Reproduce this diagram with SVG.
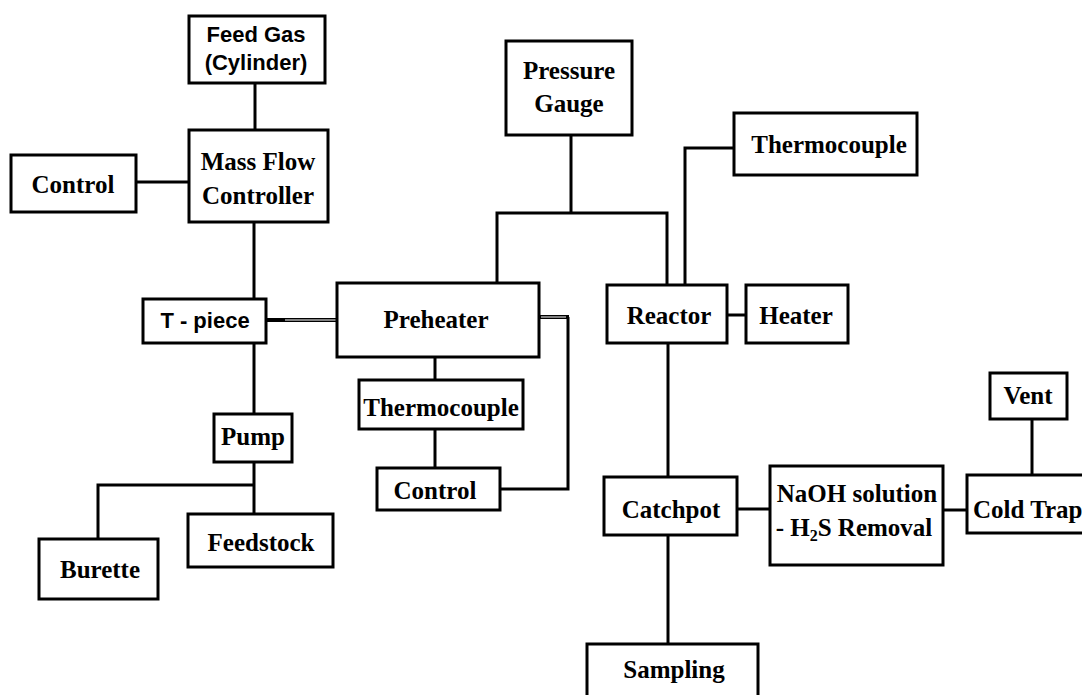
<svg xmlns="http://www.w3.org/2000/svg" width="1082" height="695" viewBox="0 0 1082 695">
<style>
.box{fill:#fff;stroke:#000;stroke-width:3}
.ln{fill:none;stroke:#000;stroke-width:3}
.dbl{fill:none;stroke:#000;stroke-width:4}
.dblw{fill:none;stroke:#fff;stroke-width:1}
.t{font-family:"Liberation Serif","Times New Roman",serif;font-weight:bold;font-size:25px;fill:#000;text-anchor:middle}
.s{font-family:"Liberation Sans",Arial,sans-serif;font-weight:bold;font-size:22px;fill:#000;text-anchor:middle}
</style>
<rect width="1082" height="695" fill="#fff"/>
<g id="connectors">
<path class="ln" d="M255,83 V130"/>
<path class="ln" d="M136,182 H189"/>
<path class="ln" d="M254,222 V299"/>
<path class="ln" d="M254,343 V414"/>
<path class="ln" d="M254,462 V514"/>
<path class="ln" d="M254,485 H98 V539"/>
<path class="dbl" d="M266,320 H337"/>
<path class="dblw" d="M285,320 H336"/>
<path class="ln" d="M435,357 V380"/>
<path class="ln" d="M435,429 V468"/>
<path class="ln" d="M500,489 H568 V317"/>
<path class="dbl" d="M539,317 H569"/>
<path class="dblw" d="M541,317 H566"/>
<path class="ln" d="M571,135 V213"/>
<path class="ln" d="M497,283 V213 H667 V285"/>
<path class="ln" d="M734,148 H685 V285"/>
<path class="ln" d="M727,315 H746"/>
<path class="ln" d="M668,343 V477"/>
<path class="ln" d="M668,535 V644"/>
<path class="ln" d="M737,509 H770"/>
<path class="ln" d="M943,510 H967"/>
<path class="ln" d="M1032,419 V475"/>
</g>
<g id="feedgas"><rect class="box" x="189" y="16" width="136" height="67"/><text class="s" x="256" y="42">Feed Gas</text><text class="s" x="256" y="70">(Cylinder)</text></g>
<g id="mfc"><rect class="box" x="189" y="130" width="139" height="92"/><text class="t" x="258" y="170">Mass Flow</text><text class="t" x="258" y="204">Controller</text></g>
<g id="control1"><rect class="box" x="11" y="155" width="125" height="57"/><text class="t" x="73" y="193">Control</text></g>
<g id="tpiece"><rect class="box" x="143" y="299" width="123" height="44"/><text class="s" x="205" y="328">T - piece</text></g>
<g id="pump"><rect class="box" x="214" y="414" width="78" height="48"/><text class="t" x="253" y="445">Pump</text></g>
<g id="burette"><rect class="box" x="39" y="539" width="119" height="60"/><text class="t" x="100" y="578">Burette</text></g>
<g id="feedstock"><rect class="box" x="188" y="514" width="145" height="53"/><text class="t" x="261" y="551">Feedstock</text></g>
<g id="preheater"><rect class="box" x="337" y="283" width="202" height="74"/><text class="t" x="436" y="328">Preheater</text></g>
<g id="thermo1"><rect class="box" x="359" y="380" width="164" height="49"/><text class="t" x="441" y="416">Thermocouple</text></g>
<g id="control2"><rect class="box" x="377" y="468" width="123" height="42"/><text class="t" x="435" y="499">Control</text></g>
<g id="pressure"><rect class="box" x="506" y="41" width="126" height="94"/><text class="t" x="569" y="79">Pressure</text><text class="t" x="569" y="112">Gauge</text></g>
<g id="thermo2"><rect class="box" x="734" y="113" width="183" height="62"/><text class="t" x="829" y="153">Thermocouple</text></g>
<g id="reactor"><rect class="box" x="607" y="285" width="120" height="58"/><text class="t" x="669" y="324">Reactor</text></g>
<g id="heater"><rect class="box" x="746" y="285" width="102" height="58"/><text class="t" x="796" y="324">Heater</text></g>
<g id="catchpot"><rect class="box" x="604" y="477" width="133" height="58"/><text class="t" x="671" y="518">Catchpot</text></g>
<g id="naoh"><rect class="box" x="770" y="466" width="173" height="99"/><text class="t" x="857" y="502">NaOH solution</text><text class="t" x="854" y="536">- H<tspan font-size="16" dy="5">2</tspan><tspan dy="-5">S Removal</tspan></text></g>
<g id="coldtrap"><rect class="box" x="967" y="475" width="125" height="58"/><text class="t" x="973" y="518" style="text-anchor:start">Cold Trap</text></g>
<g id="vent"><rect class="box" x="990" y="373" width="77" height="46"/><text class="t" x="1028" y="404">Vent</text></g>
<g id="sampling"><rect class="box" x="587" y="644" width="171" height="60"/><text class="t" x="674" y="678">Sampling</text></g>
</svg>
